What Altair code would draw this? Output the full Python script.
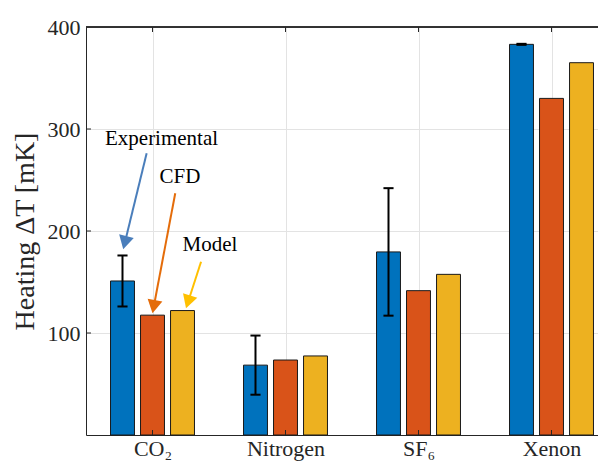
import json
import math
import altair as alt
import pandas as pd

# ---------------- data ----------------
gases = ["CO₂", "Nitrogen", "SF₆", "Xenon"]
series = ["Experimental", "CFD", "Model"]
experimental = [151, 68.5, 179.5, 383]
exp_err = [25, 29, 62.5, 0.5]
cfd = [117.5, 73.5, 141.5, 330]
model = [122, 77.5, 157.5, 365]
colors = ["#0072BD", "#D95319", "#EDB120"]
y_ticks = [100, 200, 300, 400]

# annotations (data coordinates)
ann_text = ["Experimental", "CFD", "Model"]
ann_x = [1.068, 1.207, 1.432]
ann_y = [290.5, 252.5, 186.5]
arrow_x0 = [0.956, 1.171, 1.365]
arrow_y0 = [276.2, 237.0, 169.9]
arrow_x1 = [0.780, 1.000, 1.252]
arrow_y1 = [182.1, 119.3, 124.2]
arrow_colors = ["#4A7EBB", "#E46C0A", "#FFC000"]

# ---------------- layout ----------------
W, H = 512, 408
XMIN = 0.5
XMAX = 0.5 + W / 133.0
YMIN, YMAX = 0, 400
sx = W / (XMAX - XMIN)
sy = H / (YMAX - YMIN)
offsets = [-0.2256, 0.0, 0.2256]
bw = 0.18
cap = 0.038
FONT = "Liberation Serif"
AX = "#262626"

# ---------------- tables ----------------
rows = []
for si, (name, vals) in enumerate(zip(series, [experimental, cfd, model])):
    for gi, v in enumerate(vals):
        c = gi + 1 + offsets[si]
        rows.append({"gas": gases[gi], "series": name, "value": v,
                     "x0": c - bw / 2, "x1": c + bw / 2})
bars = pd.DataFrame(rows)

err = pd.DataFrame({
    "xc": [i + 1 + offsets[0] for i in range(len(gases))],
    "lo": [v - e for v, e in zip(experimental, exp_err)],
    "hi": [v + e for v, e in zip(experimental, exp_err)],
})
err["xl"] = err["xc"] - cap
err["xr"] = err["xc"] + cap

arr_rows = []
for i in range(3):
    dxp = (arrow_x1[i] - arrow_x0[i]) * sx
    dyp = -(arrow_y1[i] - arrow_y0[i]) * sy
    L = math.hypot(dxp, dyp)
    ang = math.degrees(math.atan2(dxp, -dyp)) % 360
    back = 9.0
    xe = arrow_x1[i] - (dxp / L * back) / sx
    ye = arrow_y1[i] + (dyp / L * back) / sy
    arr_rows.append({"name": ann_text[i], "x0": arrow_x0[i], "y0": arrow_y0[i],
                     "xe": xe, "ye": ye, "xt": arrow_x1[i], "yt": arrow_y1[i],
                     "angle": ang, "color": arrow_colors[i],
                     "tx": ann_x[i], "ty": ann_y[i]})
arrows = pd.DataFrame(arr_rows)

xticks_df = pd.DataFrame({"x": list(range(1, len(gases) + 1))})
yticks_df = pd.DataFrame({"y": [t for t in y_ticks if t < YMAX]})

label_expr = json.dumps(gases) + "[datum.value - 1]"

xscale = alt.Scale(domain=[XMIN, XMAX], nice=False, zero=False)
yscale = alt.Scale(domain=[YMIN, YMAX], nice=False)

xaxis = alt.Axis(values=list(range(1, len(gases) + 1)), labelExpr=label_expr,
                 title=None, tickSize=0, labelPadding=3, labelFontSize=22,
                 labelFont=FONT, labelColor=AX, domainColor=AX, domainWidth=1,
                 grid=True, gridColor="#E3E3E3", gridWidth=1, labelFlush=False)
yaxis = alt.Axis(values=y_ticks, title="Heating ΔT [mK]", tickSize=0,
                 labelPadding=6, labelFontSize=22, labelFont=FONT, labelColor=AX,
                 titleFont=FONT, titleFontSize=28, titleFontWeight="normal",
                 titleColor=AX, titlePadding=8, domainColor=AX, domainWidth=1,
                 grid=True, gridColor="#E3E3E3", gridWidth=1)

bar_layer = alt.Chart(bars).mark_bar(stroke="#1A1A1A", strokeWidth=1).encode(
    x=alt.X("x0:Q", scale=xscale, axis=xaxis),
    x2="x1:Q",
    y=alt.Y("value:Q", scale=yscale, axis=yaxis),
    y2=alt.datum(0),
    color=alt.Color("series:N", scale=alt.Scale(domain=series, range=colors), legend=None),
)

err_v = alt.Chart(err).mark_rule(color="black", strokeWidth=2).encode(
    x="xc:Q", y="lo:Q", y2="hi:Q")
err_lo = alt.Chart(err).mark_rule(color="black", strokeWidth=2).encode(
    x="xl:Q", x2="xr:Q", y="lo:Q")
err_hi = alt.Chart(err).mark_rule(color="black", strokeWidth=2).encode(
    x="xl:Q", x2="xr:Q", y="hi:Q")

top_border = alt.Chart(xticks_df).mark_rule(color=AX, strokeWidth=1).encode(
    x=alt.value(0), x2=alt.value(W), y=alt.value(0))

xt_bottom = alt.Chart(xticks_df).mark_rule(color=AX, strokeWidth=1).encode(
    x="x:Q", y=alt.value(H), y2=alt.value(H - 5))
xt_top = alt.Chart(xticks_df).mark_rule(color=AX, strokeWidth=1).encode(
    x="x:Q", y=alt.value(0), y2=alt.value(5))
yt_left = alt.Chart(yticks_df).mark_rule(color=AX, strokeWidth=1).encode(
    y="y:Q", x=alt.value(0), x2=alt.value(5))

arrow_lines = alt.Chart(arrows).mark_rule(strokeWidth=2).encode(
    x="x0:Q", y="y0:Q", x2="xe:Q", y2="ye:Q",
    color=alt.Color("color:N", scale=None))
arrow_heads = alt.Chart(arrows).mark_point(
    shape="M0,0L-1,1.8L1,1.8Z", filled=True, size=225, opacity=1, strokeWidth=0
).encode(
    x="xt:Q", y="yt:Q",
    angle=alt.Angle("angle:Q", scale=None),
    color=alt.Color("color:N", scale=None))
ann_labels = alt.Chart(arrows).mark_text(
    font=FONT, fontSize=21, color="black", align="center", baseline="middle"
).encode(x="tx:Q", y="ty:Q", text="name:N")

chart = alt.layer(
    bar_layer, err_v, err_lo, err_hi, top_border, xt_bottom, xt_top, yt_left,
    arrow_lines, arrow_heads, ann_labels
).properties(
    width=W, height=H, autosize="none",
    padding={"left": 78, "top": 19, "right": 0, "bottom": 27},
    background="white",
).configure_view(stroke=None)

chart.save("out.html", embed_options={"renderer": "svg", "actions": False})
